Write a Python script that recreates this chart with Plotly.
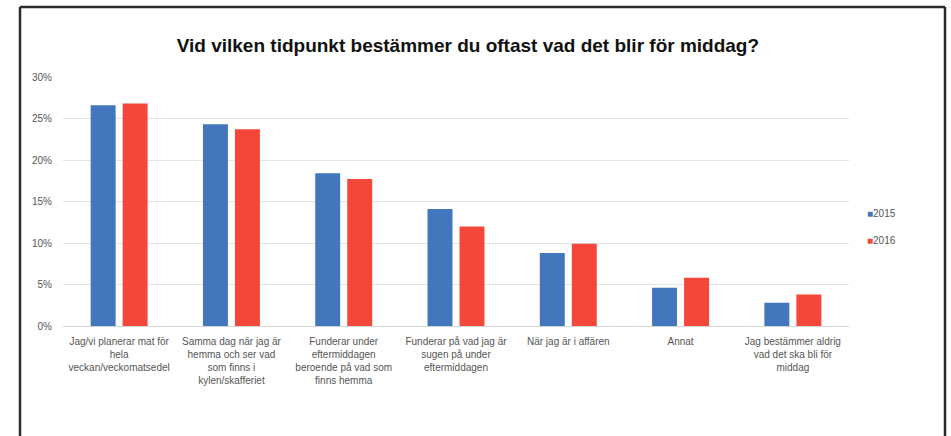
import plotly.graph_objects as go

# Survey answers (x-axis categories, wrapped as drawn under each group)
categories = [
    "Jag/vi planerar mat för<br>hela<br>veckan/veckomatsedel",
    "Samma dag när jag är<br>hemma och ser vad<br>som finns i<br>kylen/skafferiet",
    "Funderar under<br>eftermiddagen<br>beroende på vad som<br>finns hemma",
    "Funderar på vad jag är<br>sugen på under<br>eftermiddagen",
    "När jag är i affären",
    "Annat",
    "Jag bestämmer aldrig<br>vad det ska bli för<br>middag",
]

# Share of respondents, percent
values_2015 = [26.6, 24.3, 18.4, 14.1, 8.8, 4.6, 2.8]
values_2016 = [26.8, 23.7, 17.7, 12.0, 9.9, 5.8, 3.8]

years = ["2015", "2016"]
colors = ["#4276bd", "#f4473a"]

title_text = "Vid vilken tidpunkt bestämmer du oftast vad det blir för middag?"
y_ticks = [0, 5, 10, 15, 20, 25, 30]
y_ticklabels = [f"{v}%" for v in y_ticks]

W, H = 951, 436
M_L, M_R, M_T, M_B = 63, 102, 77, 110
PW, PH = W - M_L - M_R, H - M_T - M_B

fig = go.Figure()
for name, vals, col in zip(years, [values_2015, values_2016], colors):
    fig.add_trace(go.Bar(
        x=categories, y=vals, name=name, marker_color=col,
        marker_line_width=0, showlegend=False,
    ))
    # legend entry: a small coloured square set tight against the year
    fig.add_trace(go.Scatter(
        x=[None], y=[None], mode="markers", legendgroup=name,
        name=f'<span style="color:{col}">■</span>{name}',
        marker=dict(symbol="square", size=1, color="rgba(0,0,0,0)"),
    ))


def px_x(x):
    return (x - M_L) / PW


def px_y(y):
    return (H - M_B - y) / PH


# frame around the slide (left, top, right edges)
frame = dict(type="line", xref="paper", yref="paper",
             line=dict(color="#2b2b2b", width=2.5))
fig.add_shape(**frame, x0=px_x(20), x1=px_x(20), y0=px_y(7), y1=px_y(440))
fig.add_shape(**frame, x0=px_x(20), x1=px_x(945), y0=px_y(7), y1=px_y(7))
fig.add_shape(**frame, x0=px_x(945), x1=px_x(945), y0=px_y(7), y1=px_y(440))

fig.update_layout(
    width=W, height=H,
    margin=dict(l=M_L, r=M_R, t=M_T, b=M_B, pad=0),
    paper_bgcolor="white", plot_bgcolor="white",
    font=dict(family="Liberation Sans, Arial, sans-serif", color="#555555", size=10),
    title=dict(
        text=f"<b>{title_text}</b>",
        x=0.492, xanchor="center", y=1 - 45 / H, yanchor="middle", yref="container",
        font=dict(size=19, color="#111111"),
    ),
    barmode="group", bargap=0.43, bargroupgap=0.22,
    legend=dict(
        x=px_x(827), xanchor="left", y=px_y(199), yanchor="top",
        bgcolor="rgba(0,0,0,0)", font=dict(size=10, color="#555555"),
        traceorder="grouped", tracegroupgap=8, itemwidth=30,
    ),
    xaxis=dict(
        showgrid=False, showline=False, zeroline=False,
        ticks="outside", ticklen=6, tickcolor="rgba(0,0,0,0)",
        tickfont=dict(size=10, color="#555555"),
    ),
    yaxis=dict(
        range=[0, 30], tickvals=y_ticks, ticktext=y_ticklabels,
        showgrid=True, gridcolor="#e4e4e4", gridwidth=1,
        zeroline=True, zerolinecolor="#d6d6d6", zerolinewidth=1,
        showline=False, ticks="outside", ticklen=8, tickcolor="rgba(0,0,0,0)",
        tickfont=dict(size=10, color="#555555"),
    ),
)

fig.write_html("out.html")
